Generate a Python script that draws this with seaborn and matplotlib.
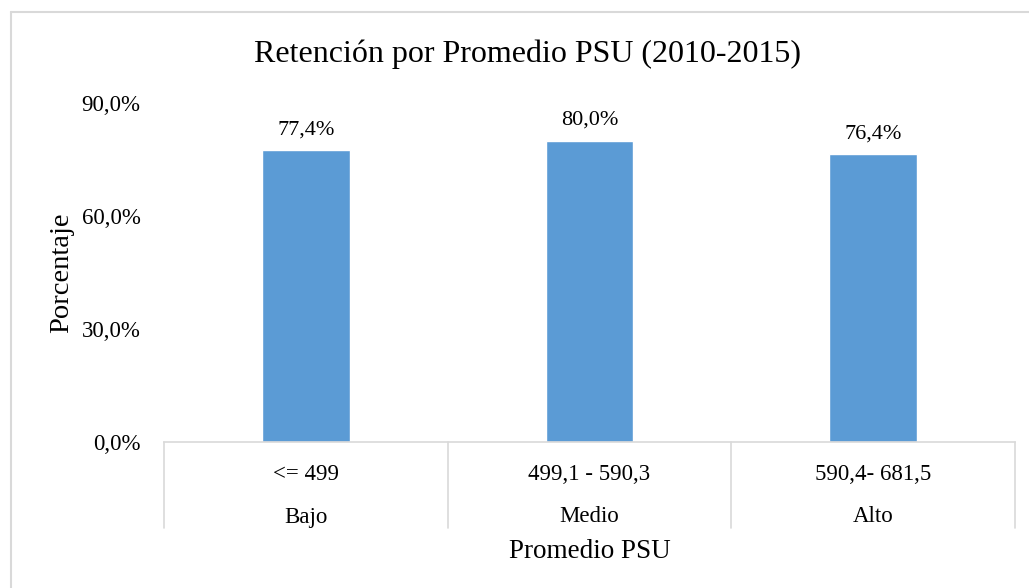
import matplotlib
matplotlib.use('Agg')
import matplotlib.pyplot as plt
import matplotlib.transforms as mtransforms
import seaborn as sns
import pandas as pd

# Data
rangos = ['<= 499', '499,1 - 590,3', '590,4- 681,5']
niveles = ['Bajo', 'Medio', 'Alto']
retencion = [77.4, 80.0, 76.4]
yticks = [0, 30, 60, 90]

df = pd.DataFrame({'nivel': niveles, 'rango': rangos, 'retencion': retencion})

sns.set_style('white')
plt.rcParams['font.family'] = ['Liberation Serif', 'DejaVu Serif']
plt.rcParams['text.color'] = 'black'
plt.rcParams['axes.labelcolor'] = 'black'
plt.rcParams['ytick.color'] = 'black'

fig = plt.figure(figsize=(10.29, 5.88), dpi=100)
ax = fig.add_axes([164 / 1029, 1 - 442 / 588, 851 / 1029, 339 / 588])

sns.barplot(data=df, x='nivel', y='retencion', color='#5B9BD5', width=0.31,
            saturation=1, ax=ax)

ax.set_ylim(0, 90)
ax.set_xlim(-0.5, 2.5)
ax.set_yticks(yticks)
ax.set_yticklabels([f'{v:.1f}%'.replace('.', ',') for v in yticks], fontsize=16.5)
ax.tick_params(axis='y', length=0, pad=17)
ax.set_xticks([])
ax.set_xlabel('')
ax.set_ylabel('Porcentaje', fontsize=20.5, labelpad=5)

for s in ['top', 'right', 'left']:
    ax.spines[s].set_visible(False)
ax.spines['bottom'].set_color('#D9D9D9')
ax.spines['bottom'].set_linewidth(1.2)

# value labels
ax.bar_label(ax.containers[0], labels=[f'{v:.1f}%'.replace('.', ',') for v in retencion],
             padding=8, fontsize=16)

# multi-level category axis
trans = mtransforms.blended_transform_factory(ax.transData, ax.transAxes)
for x in [-0.5, 0.5, 1.5, 2.5]:
    ax.plot([x, x], [0, -86 / 339], color='#D9D9D9', lw=1.2, transform=trans, clip_on=False)
for i, (r, n) in enumerate(zip(rangos, niveles)):
    ax.text(i, -32 / 339, r, ha='center', va='center', fontsize=16.5, transform=trans)
    ax.text(i, -75 / 339, n, ha='center', va='center', fontsize=16.5, transform=trans)

fig.text(590 / 1029, 1 - 551 / 588, 'Promedio PSU', ha='center', va='center', fontsize=19.5)
fig.text(527 / 1029, 1 - 54 / 588, 'Retención por Promedio PSU (2010-2015)',
         ha='center', va='center', fontsize=23)

# chart border
fig.add_artist(plt.Line2D([11 / 1029, 11 / 1029], [0, 1 - 12 / 588], color='#D9D9D9', lw=1.5))
fig.add_artist(plt.Line2D([11 / 1029, 1], [1 - 12 / 588, 1 - 12 / 588], color='#D9D9D9', lw=1.5))

fig.savefig('out.png', dpi=100)
